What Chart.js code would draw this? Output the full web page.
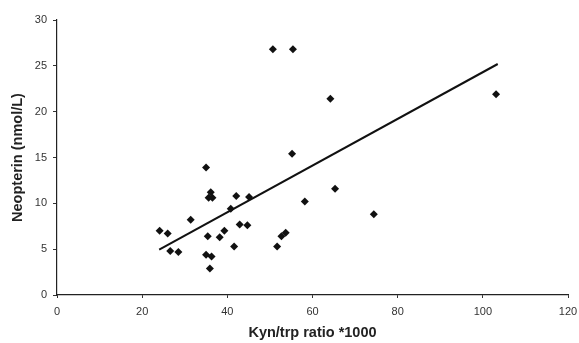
<!DOCTYPE html>
<html>
<head>
  <title>Neopterin vs Kyn/trp</title>
  <script src="https://cdn.jsdelivr.net/npm/chart.js"></script>
  <style>
    body { margin: 0; background: #fff; }
    canvas { display: block; }
  </style>
</head>
<body>
<canvas id="scatterChart" width="579" height="343"></canvas>

<script>
  // Data
  const kynTrp = [24.1, 26.0, 26.6, 28.5, 31.4, 35.0, 35.4, 35.0, 36.3, 35.9, 35.6, 36.5, 36.1,
                  38.2, 39.3, 40.8, 41.6, 42.1, 42.9, 44.7, 45.1, 50.7, 51.7, 52.7, 53.7,
                  55.2, 55.4, 58.2, 64.2, 65.3, 74.4, 103.1];
  const neopterin = [7.0, 6.7, 4.8, 4.7, 8.2, 13.9, 6.4, 4.4, 4.2, 2.9, 10.6, 10.6, 11.2,
                     6.3, 7.0, 9.4, 5.3, 10.8, 7.7, 7.6, 10.7, 26.8, 5.3, 6.4, 6.8,
                     15.4, 26.8, 10.2, 21.4, 11.6, 8.8, 21.9];

  // Regression line end points
  const fitX = [24.0, 103.5];
  const fitY = [4.95, 25.2];

  const xTicks = [0, 20, 40, 60, 80, 100, 120];
  const yTicks = [0, 5, 10, 15, 20, 25, 30];

  const points = kynTrp.map((x, i) => ({ x: x, y: neopterin[i] }));
  const fitLine = fitX.map((x, i) => ({ x: x, y: fitY[i] }));

  const config = {
    type: 'scatter',
    data: {
      datasets: [
        {
          data: points,
          pointStyle: 'rectRot',
          pointRadius: 4,
          backgroundColor: '#111',
          borderColor: '#111',
          borderWidth: 0
        },
        {
          type: 'line',
          data: fitLine,
          borderColor: '#111',
          borderWidth: 2,
          pointRadius: 0,
          fill: false
        }
      ]
    },
    options: {
      responsive: false,
      animation: false,
      layout: { padding: { left: 0, top: 20, right: 11, bottom: 0 } },
      plugins: { legend: { display: false }, tooltip: { enabled: false } },
      scales: {
        x: {
          type: 'linear',
          min: 0,
          max: 120,
          afterBuildTicks: scale => { scale.ticks = xTicks.map(v => ({ value: v })); },
          afterFit: scale => {
            scale.height = 48;
            scale.paddingLeft = 0;
            scale.paddingRight = 0;
          },
          grid: { drawOnChartArea: false, tickLength: 3, color: '#333' },
          border: { display: true, color: '#222', width: 1.2 },
          ticks: { color: '#333', font: { family: 'Liberation Sans', size: 11 }, padding: 7 },
          title: {
            display: true,
            text: 'Kyn/trp ratio *1000',
            color: '#222',
            font: { family: 'Liberation Sans', size: 14.5, weight: 'bold' },
            padding: { top: 0, bottom: 1 }
          }
        },
        y: {
          min: 0,
          max: 30,
          afterBuildTicks: scale => { scale.ticks = yTicks.map(v => ({ value: v })); },
          afterFit: scale => { scale.width = 57; },
          grid: { drawOnChartArea: false, tickLength: 4, color: '#333' },
          border: { display: true, color: '#222', width: 1.2 },
          ticks: { color: '#333', font: { family: 'Liberation Sans', size: 11 }, padding: 6 },
          title: {
            display: true,
            text: 'Neopterin (nmol/L)',
            color: '#222',
            font: { family: 'Liberation Sans', size: 14.5, weight: 'bold' },
            padding: { top: 9, bottom: 0 }
          }
        }
      }
    }
  };

  new Chart(document.getElementById('scatterChart'), config);
</script>
</body>
</html>
